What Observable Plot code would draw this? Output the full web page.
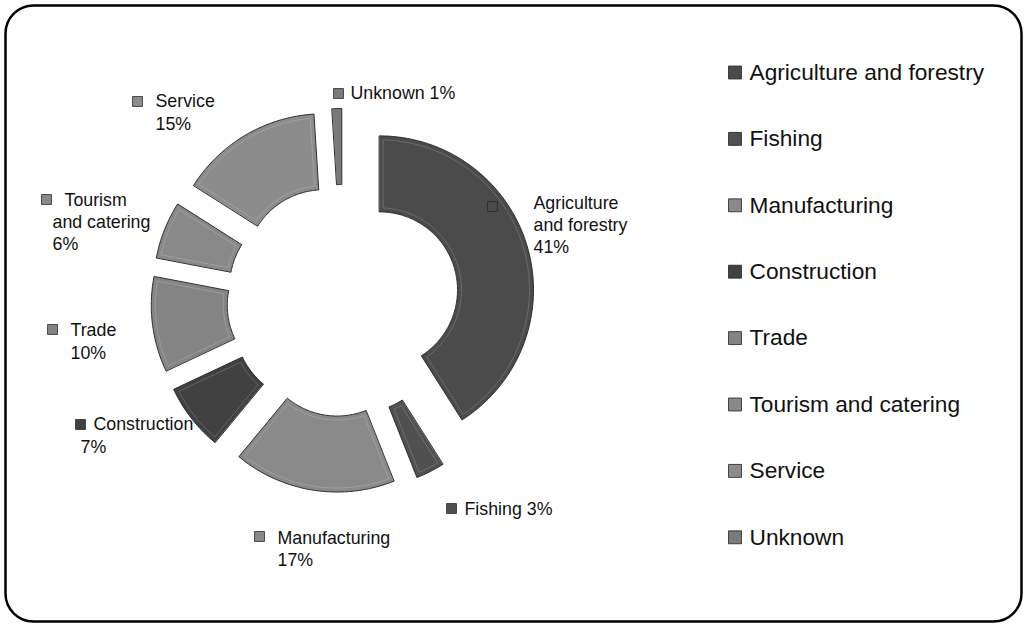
<!DOCTYPE html>
<html><head><meta charset="utf-8">
<script src="https://cdn.jsdelivr.net/npm/d3@7"></script>
<script src="https://cdn.jsdelivr.net/npm/@observablehq/plot@0.6"></script>
<style>body{margin:0;background:#fff;font-family:"Liberation Sans",Arial,sans-serif}</style>
</head><body><div id="chart"></div>
<script>
// ---- data ----
const categories = ["Agriculture and forestry","Fishing","Manufacturing","Construction","Trade","Tourism and catering","Service","Unknown"];
const shares = [41,3,17,7,10,6,15,1];
// how each category name is wrapped in the slice labels
const labelNames = [["Agriculture","and forestry"],["Fishing"],["Manufacturing"],["Construction"],["Trade"],["Tourism","and catering"],["Service"],["Unknown"]];
const shades = ["#4b4b4b","#505050","#8a8a8a","#414141","#848484","#898989","#8c8c8c","#7a7a7a"];

// ---- layout (pixels) ----
const CX = 342.5, CY = 300, R = 154, RIN = 78, EXPLODE = 38;
const px = v => (v - CX) / R, py = v => (CY - v) / R;
// label anchor positions: marker [x,y], then text lines [x,y]
const labelLayout = [
  {m:[492,206], lines:[[533,203],[533,225],[533,247]], sameLine:false},
  {m:[451,508], lines:[[464,509]], sameLine:true},
  {m:[259,536], lines:[[277,538],[277,560]], sameLine:false},
  {m:[80,424],  lines:[[93,424],[80,447]], sameLine:false},
  {m:[52,329],  lines:[[70,330],[70,353]], sameLine:false},
  {m:[46,199],  lines:[[64,200],[52,222],[52,244]], sameLine:false},
  {m:[137,101], lines:[[155,101],[155,124]], sameLine:false},
  {m:[338,93],  lines:[[350,93]], sameLine:true}
];
const legendX = 734.5, legendTextX = 749, legendY0 = 72, legendStep = 66.4;

// ---- geometry from shares ----
const total = d3.sum(shares);
const cum = d3.cumsum(shares);
function ringPoints(name, a0, a1, ox, oy, inset) {
  const ro = R - inset, ri = RIN + inset;
  const pts = [];
  const ao0 = a0 + inset / ro, ao1 = a1 - inset / ro;
  const ai0 = a0 + inset / ri, ai1 = a1 - inset / ri;
  const n = Math.max(2, Math.ceil((a1 - a0) * 60));
  for (let k = 0; k <= n; k++) {
    const a = ao0 + (ao1 - ao0) * k / n;
    pts.push({name, x: ox + ro / R * Math.sin(a), y: oy + ro / R * Math.cos(a)});
  }
  for (let k = n; k >= 0; k--) {
    const a = ai0 + (ai1 - ai0) * k / n;
    pts.push({name, x: ox + ri / R * Math.sin(a), y: oy + ri / R * Math.cos(a)});
  }
  return pts;
}
const slices = [], bevels = [];
categories.forEach((name, i) => {
  const a0 = 2 * Math.PI * (cum[i] - shares[i]) / total;
  const a1 = 2 * Math.PI * cum[i] / total;
  const am = (a0 + a1) / 2;
  const ox = EXPLODE / R * Math.sin(am), oy = EXPLODE / R * Math.cos(am);
  slices.push(...ringPoints(name, a0, a1, ox, oy, 0));
  if (shares[i] >= 2) bevels.push(...ringPoints(name, a0, a1, ox, oy, 4));
});

// labels
const labelMarkers = [], labelTexts = [];
categories.forEach((name, i) => {
  const L = labelLayout[i];
  labelMarkers.push({name, x: px(L.m[0]), y: py(L.m[1])});
  const lines = L.sameLine ? [labelNames[i].join(" ") + " " + shares[i] + "%"]
                           : [...labelNames[i], shares[i] + "%"];
  lines.forEach((t, j) => labelTexts.push({text: t, x: px(L.lines[j][0]), y: py(L.lines[j][1])}));
});
const legendRows = categories.map((name, i) => ({name, x: px(legendX), tx: px(legendTextX), y: py(legendY0 + i * legendStep)}));

const chart = Plot.plot({
  width: 1026, height: 627,
  marginTop: 5, marginLeft: 5, marginRight: 5, marginBottom: 6,
  x: {domain: [px(5), px(1021)], axis: null},
  y: {domain: [py(621), py(5)], axis: null},
  color: {domain: categories, range: shades},
  style: {fontFamily: '"Liberation Sans", Arial, sans-serif', background: "white"},
  marks: [
    Plot.frame({rx: 28, stroke: "black", strokeWidth: 2.5}),
    Plot.line(slices, {x: "x", y: "y", z: "name", fill: "name", stroke: "#2e2e2e", strokeWidth: 1, curve: "linear-closed"}),
    Plot.line(bevels, {x: "x", y: "y", z: "name", fill: "name", stroke: "rgba(255,255,255,0.18)", strokeWidth: 1, curve: "linear-closed"}),
    Plot.dot(labelMarkers, {x: "x", y: "y", fill: "name", symbol: "square", r: 5.6, stroke: "#2a2a2a", strokeWidth: 0.8}),
    Plot.text(labelTexts, {x: "x", y: "y", text: "text", textAnchor: "start", lineAnchor: "middle", fontSize: 17.8, fill: "#111"}),
    Plot.dot(legendRows, {x: "x", y: "y", fill: "name", symbol: "square", r: 7.3, stroke: "#222", strokeWidth: 0.8}),
    Plot.text(legendRows, {x: "tx", y: "y", text: "name", textAnchor: "start", lineAnchor: "middle", fontSize: 22.7, fill: "#111"})
  ]
});
document.getElementById("chart").append(chart);
</script></body></html>
